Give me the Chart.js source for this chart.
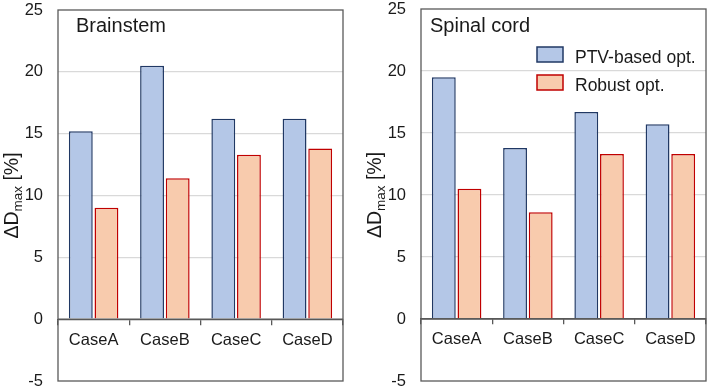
<!DOCTYPE html>
<html lang="en">
<head>
    <meta charset="UTF-8">
    <title>ΔDmax - Brainstem / Spinal cord</title>
    <script src="https://cdn.jsdelivr.net/npm/chart.js"></script>
    <style>
        body {
            margin: 0;
            background: #fff;
        }
        #wrap {
            position: relative;
            width: 709px;
            height: 389px;
        }
        #chartLeft { position: absolute; left: 0; top: 0; }
        #chartRight { position: absolute; left: 360px; top: 0; }
    </style>
</head>
<body>

    <div id="wrap">
        <canvas id="chartLeft" width="360" height="389"></canvas>
        <canvas id="chartRight" width="349" height="389"></canvas>
    </div>

    <script>
        // data
        const categories = ['CaseA', 'CaseB', 'CaseC', 'CaseD'];
        const brainstemPTV = [15.2, 20.5, 16.2, 16.2];
        const brainstemRobust = [9.0, 11.4, 13.3, 13.8];
        const spinalPTV = [19.5, 13.8, 16.7, 15.7];
        const spinalRobust = [10.5, 8.6, 13.3, 13.3];
        const seriesNames = ['PTV-based opt.', 'Robust opt.'];
        const yMin = -5, yMax = 25, yStep = 5;

        const FONT = "'Liberation Sans', Arial, sans-serif";
        const blueFill = '#b4c7e7', blueLine = '#203864';
        const orangeFill = '#f8cbad', orangeLine = '#c00000';
        const axisColor = '#595959';
        const textColor = '#1a1a1a';

        // frame, zero line, panel title, axis title, (optional) legend
        const decorPlugin = {
            id: 'decor',
            afterDatasetsDraw(chart, args, opts) {
                const ctx = chart.ctx;
                const a = chart.chartArea;
                const y0 = chart.scales.y.getPixelForValue(0);
                ctx.save();
                ctx.strokeStyle = axisColor;
                ctx.lineWidth = 1.3;
                ctx.beginPath();
                ctx.moveTo(a.left, y0);
                ctx.lineTo(a.right, y0);
                ctx.stroke();
                ctx.strokeRect(a.left, a.top, a.right - a.left, a.bottom - a.top);

                // panel title
                ctx.fillStyle = textColor;
                ctx.font = '20px ' + FONT;
                ctx.textBaseline = 'alphabetic';
                ctx.textAlign = 'left';
                ctx.fillText(opts.title, a.left + opts.titleDx, 32);

                // y axis title: ΔD_max [%]
                ctx.translate(a.left - 40, (a.top + a.bottom) / 2);
                ctx.rotate(-Math.PI / 2);
                const big = '19.5px ' + FONT, small = '13.5px ' + FONT;
                ctx.font = big;
                const w1 = ctx.measureText('ΔD').width;
                const w3 = ctx.measureText(' [%]').width;
                ctx.font = small;
                const w2 = ctx.measureText('max').width;
                let x = -(w1 + w2 + w3) / 2;
                ctx.font = big;
                ctx.fillText('ΔD', x, 0);
                x += w1;
                ctx.font = small;
                ctx.fillText('max', x, 4);
                x += w2;
                ctx.font = big;
                ctx.fillText(' [%]', x, 0);
                ctx.restore();

                if (opts.legend) {
                    ctx.save();
                    const lx = a.left + 116;
                    const items = [
                        { t: seriesNames[0], f: blueFill, s: blueLine, y: 47 },
                        { t: seriesNames[1], f: orangeFill, s: orangeLine, y: 75 }
                    ];
                    ctx.font = '17.5px ' + FONT;
                    ctx.textBaseline = 'alphabetic';
                    items.forEach(it => {
                        ctx.fillStyle = it.f;
                        ctx.strokeStyle = it.s;
                        ctx.lineWidth = 1.5;
                        ctx.fillRect(lx, it.y, 26, 15);
                        ctx.strokeRect(lx, it.y, 26, 15);
                        ctx.fillStyle = textColor;
                        ctx.fillText(it.t, lx + 38, it.y + 16);
                    });
                    ctx.restore();
                }
            }
        };

        function makeChart(id, ptv, robust, title, titleDx, legend, axisWidth, pad) {
            return new Chart(document.getElementById(id).getContext('2d'), {
                type: 'bar',
                data: {
                    labels: categories,
                    datasets: [
                        { label: seriesNames[0], data: ptv, backgroundColor: blueFill, borderColor: blueLine,
                          borderWidth: 1.5, borderSkipped: 'start' },
                        { label: seriesNames[1], data: robust, backgroundColor: orangeFill, borderColor: orangeLine,
                          borderWidth: 1.5, borderSkipped: 'start' }
                    ]
                },
                options: {
                    responsive: false,
                    animation: false,
                    categoryPercentage: 0.72,
                    barPercentage: 0.93,
                    layout: { padding: pad },
                    plugins: {
                        legend: { display: false },
                        tooltip: { enabled: false },
                        decor: { title: title, titleDx: titleDx, legend: legend }
                    },
                    scales: {
                        x: {
                            position: { y: 0 },
                            afterFit: s => {
                                s.height = 0;
                                s.paddingLeft = s.paddingRight = s.paddingTop = s.paddingBottom = 0;
                            },
                            grid: { offset: true, drawOnChartArea: false, tickLength: 5, color: axisColor, lineWidth: 1.3 },
                            border: { color: axisColor, width: 1.3 },
                            ticks: { color: textColor, padding: 6, font: { family: FONT, size: 16.5 } }
                        },
                        y: {
                            min: yMin,
                            max: yMax,
                            afterFit: s => {
                                s.width = axisWidth;
                                s.paddingTop = s.paddingBottom = 0;
                            },
                            border: { display: false },
                            grid: {
                                drawTicks: false,
                                color: c => (c.tick.value > yMin && c.tick.value < yMax && c.tick.value !== 0) ? '#d9d9d9' : 'rgba(0,0,0,0)',
                                lineWidth: 1.3
                            },
                            ticks: { stepSize: yStep, color: textColor, padding: 15, font: { family: FONT, size: 16.5 } }
                        }
                    }
                },
                plugins: [decorPlugin]
            });
        }

        makeChart('chartLeft', brainstemPTV, brainstemRobust, 'Brainstem', 18, false, 58,
            { left: 0, top: 10, right: 17, bottom: 8 });
        makeChart('chartRight', spinalPTV, spinalRobust, 'Spinal cord', 9, true, 61,
            { left: 0, top: 9, right: 3, bottom: 8 });
    </script>

</body>
</html>
